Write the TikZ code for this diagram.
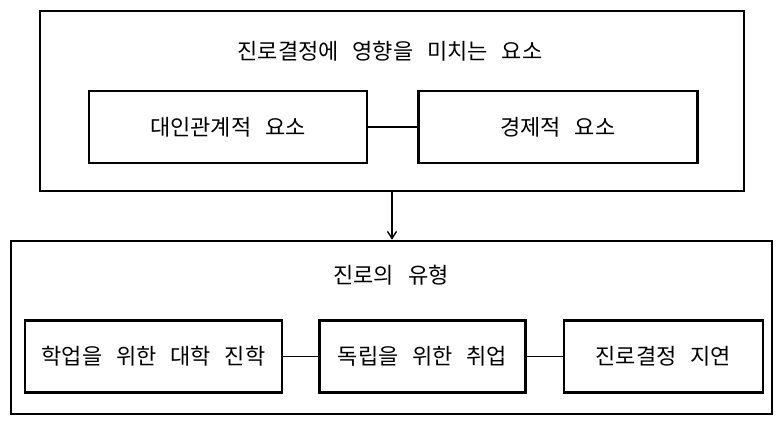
\documentclass[tikz,border=0pt]{standalone}
\usepackage{fontspec}
\setmainfont{Noto Sans CJK KR}[WordSpace=2.8]
\usetikzlibrary{arrows.meta, positioning}
\tikzset{
  outerbox/.style={draw, line width=2.6pt, inner sep=0pt},
  itembox/.style ={draw, line width=2.4pt, inner sep=0pt, minimum height=72pt, font=\fontsize{22}{26}\selectfont},
  ttl/.style     ={inner sep=0pt, font=\fontsize{22}{26}\selectfont},
  link/.style    ={line width=1.4pt},
  flow/.style    ={-{Straight Barb[length=7pt, width=9pt]}, line width=1.4pt},
}
\begin{document}
\begin{tikzpicture}[x=1pt, y=-1pt]
  \useasboundingbox (0,0) rectangle (777,423);
  % top group: factors
  \node[outerbox, minimum width=704pt, minimum height=180pt] (factors) at (392,101) {};
  \node[ttl] (factT) at (390,51) {진로결정에 영향을 미치는 요소};
  \node[itembox, minimum width=278pt] (inter) at (228,127) {대인관계적 요소};
  \node[itembox, minimum width=279pt, right=49pt of inter] (econ) {경제적 요소};
  \draw[link] (inter) -- (econ);
  % bottom group: types
  \node[outerbox, minimum width=761pt, minimum height=173pt] (types) at (391.5,327.5) {};
  \node[ttl] (typeT) at (391,275) {진로의 유형};
  \node[itembox, minimum width=257pt] (univ) at (153.5,356.5) {학업을 위한 대학 진학};
  \node[itembox, minimum width=206pt, right=35pt of univ] (job) {독립을 위한 취업};
  \node[itembox, minimum width=199pt, right=36pt of job] (delay) {진로결정 지연};
  \draw[link] (univ) -- (job);
  \draw[link] (job) -- (delay);
  \draw[flow] (factors.south) -- (factors.south |- types.north);
\end{tikzpicture}
\end{document}
